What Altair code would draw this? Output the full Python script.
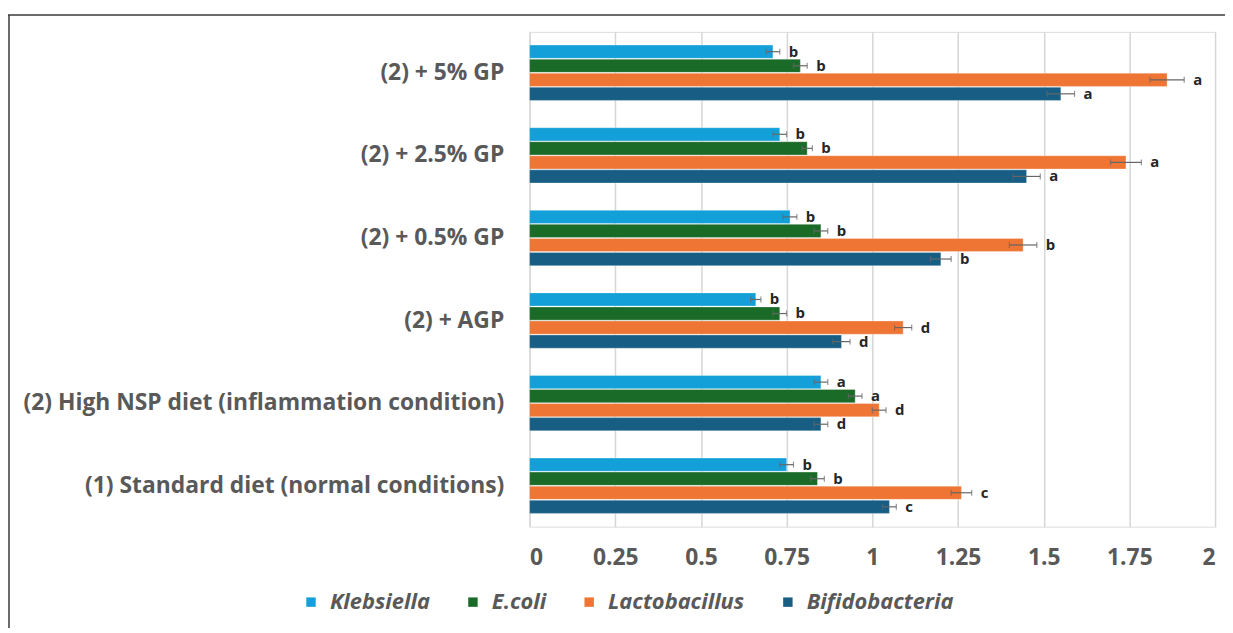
import altair as alt
import pandas as pd

groups = ["(1) Standard diet (normal conditions)",
          "(2) High NSP diet (inflammation condition)",
          "(2) + AGP", "(2) + 0.5% GP", "(2) + 2.5% GP", "(2) + 5% GP"]
species = ["Klebsiella", "E.coli", "Lactobacillus", "Bifidobacteria"]
colors = ["#13a0d8", "#1a6b28", "#ee7534", "#185e84"]

klebsiella = [0.75, 0.85, 0.66, 0.76, 0.73, 0.71]
ecoli = [0.84, 0.95, 0.73, 0.85, 0.81, 0.79]
lactobacillus = [1.26, 1.02, 1.09, 1.44, 1.74, 1.86]
bifidobacteria = [1.05, 0.85, 0.91, 1.20, 1.45, 1.55]

err_klebsiella = [0.02, 0.02, 0.015, 0.02, 0.02, 0.02]
err_ecoli = [0.02, 0.02, 0.02, 0.02, 0.015, 0.02]
err_lactobacillus = [0.03, 0.02, 0.025, 0.04, 0.045, 0.05]
err_bifidobacteria = [0.02, 0.02, 0.025, 0.03, 0.04, 0.04]

let_klebsiella = ["b", "a", "b", "b", "b", "b"]
let_ecoli = ["b", "a", "b", "b", "b", "b"]
let_lactobacillus = ["c", "d", "d", "b", "a", "a"]
let_bifidobacteria = ["c", "d", "d", "b", "a", "a"]

x_ticks = [0, 0.25, 0.5, 0.75, 1, 1.25, 1.5, 1.75, 2]

vals = [klebsiella, ecoli, lactobacillus, bifidobacteria]
errs = [err_klebsiella, err_ecoli, err_lactobacillus, err_bifidobacteria]
lets = [let_klebsiella, let_ecoli, let_lactobacillus, let_bifidobacteria]

rows = []
for s, v, e, l in zip(species, vals, errs, lets):
    for g, vv, ee, ll in zip(groups, v, e, l):
        rows.append({"group": g, "species": s, "value": vv, "err": ee, "letter": ll})
df = pd.DataFrame(rows)

order_top = list(reversed(groups))
FONT = "Open Sans"
GRAY = "#595959"

base = alt.Chart(df).transform_calculate(
    lo="datum.value - datum.err", hi="datum.value + datum.err"
)

y_enc = alt.Y("group:N", sort=order_top,
              scale=alt.Scale(paddingInner=0.33, paddingOuter=0.16),
              axis=alt.Axis(title=None, labelFont=FONT, labelFontSize=23,
                            labelFontWeight="bold", labelColor=GRAY,
                            labelLimit=600, labelPadding=26, ticks=False,
                            domain=False, grid=False))
yoff = alt.YOffset("species:N", sort=species,
                   scale=alt.Scale(paddingInner=0.06, paddingOuter=0))

bars = base.mark_bar(stroke="white", strokeWidth=0.5, strokeOpacity=0.6).encode(
    x=alt.X("value:Q", scale=alt.Scale(domain=[0, 2], nice=False),
            axis=alt.Axis(title=None, values=x_ticks, format=".3~g",
                          labelFont=FONT, labelFontSize=23, labelFontWeight="bold",
                          labelColor=GRAY, labelPadding=20, ticks=False,
                          domain=False, grid=True, gridColor="#d6d6d6",
                          gridWidth=1.5)),
    y=y_enc,
    yOffset=yoff,
    color=alt.Color("species:N", sort=species,
                    scale=alt.Scale(domain=species, range=colors),
                    legend=alt.Legend(title=None, orient="none", direction="horizontal",
                                      legendX=-231, legendY=563,
                                      symbolType="square", symbolSize=90,
                                      symbolStrokeWidth=0,
                                      labelFont=FONT, labelFontSize=22,
                                      labelFontStyle="italic", labelFontWeight="bold",
                                      labelColor=GRAY, columnPadding=32,
                                      labelOffset=8)),
)

err_rule = base.mark_rule(color="#666666", strokeWidth=1.2).encode(
    x="lo:Q", x2="hi:Q", y=alt.Y("group:N", sort=order_top), yOffset=yoff)
cap_lo = base.mark_tick(color="#666666", thickness=1.2, size=6).encode(
    x="lo:Q", y=alt.Y("group:N", sort=order_top), yOffset=yoff)
cap_hi = base.mark_tick(color="#666666", thickness=1.2, size=6).encode(
    x="hi:Q", y=alt.Y("group:N", sort=order_top), yOffset=yoff)

letters = base.mark_text(align="left", baseline="middle", dx=9, font=FONT,
                         fontSize=15, fontWeight="bold", color="#262626").encode(
    x="hi:Q", y=alt.Y("group:N", sort=order_top), yOffset=yoff, text="letter:N")

frame_top = alt.Chart(pd.DataFrame({"a": [0]})).mark_rule(
    color="#3a3a3a", strokeWidth=1.5).encode(
    x=alt.value(-525), x2=alt.value(700), y=alt.value(-17))
frame_left = alt.Chart(pd.DataFrame({"a": [0]})).mark_rule(
    color="#3a3a3a", strokeWidth=1.5).encode(
    x=alt.value(-524), y=alt.value(-17), y2=alt.value(610))

chart = alt.layer(bars, err_rule, cap_lo, cap_hi, letters, frame_top, frame_left).properties(
    width=690, height=498,
    autosize=alt.AutoSizeParams(type="none"),
    padding={"left": 525, "top": 22, "right": 10, "bottom": 100},
).configure_view(stroke="#8c8c8c", strokeWidth=2.5, cornerRadius=2
).configure(background="white")

chart.save("out.html", embed_options={"renderer": "svg", "actions": False})
